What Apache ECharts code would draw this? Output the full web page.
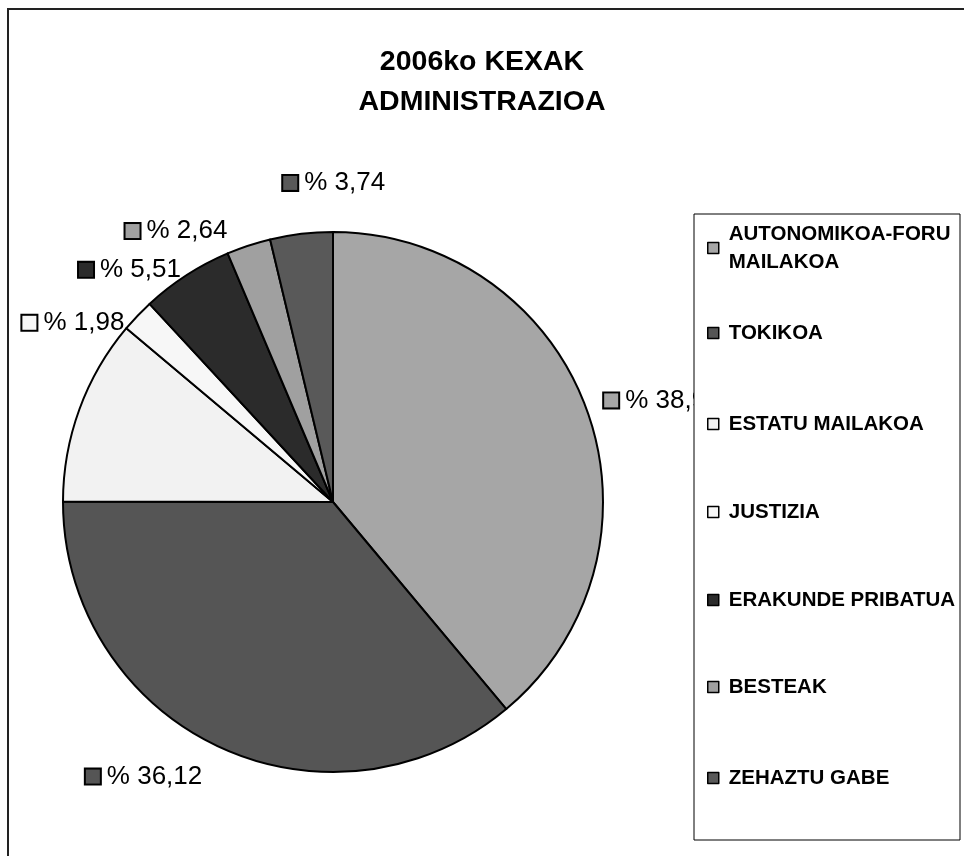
<!DOCTYPE html>
<html>
  <head>
    <meta charset="utf-8">
    <title>2006ko KEXAK</title>
    <style type="text/css">
    html,body{margin:0;padding:0;background:#fff;}
    #pie1{width:964px;height:856px;}
    </style>
    <script src="https://cdn.jsdelivr.net/npm/echarts@6/dist/echarts.min.js"></script>
  </head>
  <body>
    <div id="pie1"></div>
    <script type="text/javascript">
      // datuak
      var categories = ['AUTONOMIKOA-FORU MAILAKOA','TOKIKOA','ESTATU MAILAKOA','JUSTIZIA','ERAKUNDE PRIBATUA','BESTEAK','ZEHAZTU GABE'];
      var percents = [38.91, 36.12, 11.10, 1.98, 5.51, 2.64, 3.74];
      var showLabel = [true, true, false, true, true, true, true];
      var colors = ['#a6a6a6','#555555','#f2f2f2','#f7f7f7','#2b2b2b','#a0a0a0','#595959'];

      var font = "'Liberation Sans', Arial, sans-serif";
      // etiketen mugimendua (dx, dy)
      var labelShift = [[3,-6],[-7,21],[0,0],[-1,14],[5,3],[-13,-5],[90,-41]];
      var legendCenters = [248, 333, 424, 512, 600, 687, 778];

      var myChart = echarts.init(document.getElementById('pie1'));

      var seriesData = categories.map(function(name, i){
        return {
          name: name,
          value: percents[i],
          itemStyle: {color: colors[i]},
          label: {
            show: showLabel[i],
            rich: {
              m: {width:14, height:14, backgroundColor: colors[i], borderColor:'#000', borderWidth:2},
              t: {fontSize:26, fontFamily:font, color:'#000', padding:[0,0,0,7]}
            }
          }
        };
      });

      var legends = categories.map(function(name, i){
        var first = i === 0;
        return {
          data: [name],
          orient: 'vertical',
          left: 707,
          top: legendCenters[i] - (first ? 42 : 14),
          padding: 0,
          icon: 'rect',
          itemWidth: 11,
          itemHeight: 11,
          selectedMode: false,
          z: 200,
          itemStyle: {borderColor:'#000', borderWidth:1.5},
          formatter: function(n){ return n.replace('AUTONOMIKOA-FORU ', 'AUTONOMIKOA-FORU\n'); },
          textStyle: {
            fontFamily: font, fontSize: 20.5, fontWeight: 'bold', color: '#000',
            lineHeight: 28, padding: first ? [28,0,0,5] : [0,0,0,5]
          }
        };
      });

      var option = {
        animation: false,
        title: {
          text: '2006ko KEXAK\nADMINISTRAZIOA',
          left: 'center',
          top: 42,
          padding: 0,
          textStyle: {fontFamily: font, fontSize: 28.5, fontWeight: 'bold', color: '#000', lineHeight: 40}
        },
        legend: legends,
        graphic: [
          {type:'rect', z:0, shape:{x:8, y:9, width:980, height:880}, style:{fill:null, stroke:'#222', lineWidth:2}},
          {type:'rect', z:100, shape:{x:694, y:214, width:266, height:626}, style:{fill:'#fff', stroke:'#000', lineWidth:1}}
        ],
        series: [{
          type: 'pie',
          center: [333, 502],
          radius: 270,
          startAngle: 90,
          avoidLabelOverlap: false,
          itemStyle: {borderColor:'#000', borderWidth:2},
          label: {
            position: 'outside',
            formatter: function(p){ return '{m|}{t|% ' + p.value.toFixed(2).replace('.', ',') + '}'; }
          },
          labelLine: {show:false, length:10, length2:0},
          labelLayout: function(p){
            var s = labelShift[p.dataIndex];
            return {dx: s[0], dy: s[1]};
          },
          emphasis: {disabled: true},
          data: seriesData
        }]
      };
      myChart.setOption(option);
    </script>
  </body>
</html>
